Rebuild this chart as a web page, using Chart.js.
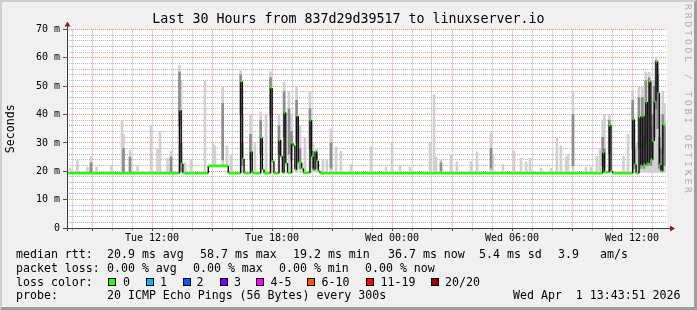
<!DOCTYPE html>
<html>
<head>
<meta charset="utf-8">
<title>Last 30 Hours</title>
<script src="https://cdn.jsdelivr.net/npm/chart.js@4.4.1/dist/chart.umd.min.js"></script>
<style>
html, body { margin: 0; padding: 0; background: #f0f0f0; }
#wrap { position: relative; width: 697px; height: 310px; overflow: hidden; background: #f0f0f0;
        font-family: 'DejaVu Sans Mono', monospace; color: #000; }
#chart { position: absolute; left: 0; top: 0; }
#title { position: absolute; left: 0; top: 10px; width: 697px; text-align: center;
         font-size: 13.3px; line-height: 18px; white-space: pre; }
.t { position: absolute; font-size: 11.6px; line-height: 14px; white-space: pre; }
.box { position: absolute; width: 6px; height: 6px; border: 1px solid #000; }
#mark { position: absolute; left: 683px; top: 4px; writing-mode: vertical-rl; font-size: 9.5px;
        line-height: 10px; letter-spacing: 3px; color: #aaaaaa; white-space: pre; }
#frame { position: absolute; left: 0; top: 0; width: 697px; height: 310px; box-sizing: border-box;
         border-style: solid; border-width: 2px 3px 3px 2px;
         border-color: #cfcfcf #9e9e9e #9e9e9e #cfcfcf; }
</style>
</head>
<body>
<div id="wrap">
  <canvas id="chart" width="697" height="310"></canvas>
  <div id="title"></div>
  <div id="legend"></div>
  <div id="mark">RRDTOOL / TOBI OETIKER</div>
  <div id="frame"></div>
</div>
<script>
// time in hours since Tue 00:00, values in ms
const titleText = 'Last 30 Hours from 837d29d39517 to linuxserver.io';
const xStart = 7.75;
const xEnd = 37.75;
const xTickHours = [12, 18, 24, 30, 36];
const xTickLabels = ['Tue 12:00', 'Tue 18:00', 'Wed 00:00', 'Wed 06:00', 'Wed 12:00'];
const yTickValues = [0, 10, 20, 30, 40, 50, 60, 70];
const yTickLabels = ['0', '10 m', '20 m', '30 m', '40 m', '50 m', '60 m', '70 m'];

// median rtt, value holds from each time until the next one
const medianHours = [7.75, 13.375, 13.46, 13.545, 14.815, 15.815, 16.435, 16.52, 16.605, 16.925,
  17.01, 17.095, 17.435, 17.52, 17.605, 17.925, 18.01, 18.095, 18.35, 18.435,
  18.52, 18.605, 18.69, 18.775, 18.975, 19.06, 19.145, 19.23, 19.315, 19.4,
  19.485, 19.57, 19.9, 19.98, 20.065, 20.15, 20.235, 20.32, 20.405, 34.535,
  34.62, 34.865, 34.95, 35.035, 36.035, 36.12, 36.205, 36.35, 36.435, 36.52,
  36.605, 36.69, 36.775, 36.86, 36.945, 37.03, 37.115, 37.2, 37.285, 37.37,
  37.455, 37.54, 37.66];
const medianMs = [19.3, 41.5, 22.7, 19.3, 21.9, 19.3, 51.7, 24.3, 19.3, 27,
  19.6, 19.3, 31.8, 20.5, 19.3, 49.4, 23.5, 19.3, 31, 25.2,
  19.5, 40.7, 22.8, 19.4, 29.8, 29, 20.5, 39.5, 23, 23,
  21, 19.5, 38, 25.1, 20.5, 27, 23.7, 20, 19.3, 26.6,
  19.7, 36.2, 20, 19.3, 38.3, 22.4, 19.3, 39.2, 22, 39.4,
  22.4, 44.4, 22.8, 51.7, 24.2, 30.7, 44.7, 58.7, 47.6, 22.3,
  20, 36.6, 36.6];

// smoke: full spread of the pings
const smokeHours = [7.9, 8.275, 8.775, 8.95, 9.225, 9.975, 10.5, 10.575, 10.9, 11.275,
  11.95, 12.275, 12.4, 12.775, 12.95, 13.375, 13.46, 13.65, 13.95, 14.65,
  15.05, 15.15, 15.535, 15.75, 15.95, 16.435, 16.52, 16.925, 17.15, 17.435,
  17.7, 17.925, 18.35, 18.605, 18.85, 18.975, 19.23, 19.4, 19.65, 19.9,
  20.05, 20.235, 20.55, 20.75, 20.95, 21.2, 21.45, 21.95, 22.95, 23.7,
  24.0, 24.4, 24.9, 25.9, 26.1, 26.2, 26.45, 26.95, 27.25, 27.95,
  28.25, 28.95, 29.05, 29.55, 30.1, 30.45, 30.7, 30.9, 31.45, 31.95,
  32.25, 32.45, 32.7, 32.8, 33.05, 33.7, 33.95, 34.25, 34.4, 34.535,
  34.62, 34.865, 35.575, 35.8, 36.035, 36.12, 36.25, 36.35, 36.435, 36.52,
  36.605, 36.69, 36.775, 36.86, 36.945, 37.03, 37.115, 37.2, 37.285, 37.37,
  37.455, 37.54, 37.625];
const smokeLo = [19.6, 19.6, 19.6, 19.6, 19.6, 19.6, 19.6, 19.6, 19.6, 19.6,
  19.6, 19.6, 19.6, 19.6, 19.6, 19.6, 19.6, 19.6, 19.6, 19.6,
  21.9, 21.9, 21.9, 21.9, 19.6, 19.6, 19.6, 19.6, 19.6, 19.6,
  19.6, 19.6, 19.6, 19.6, 19.6, 19.6, 19.6, 19.6, 19.6, 19.6,
  19.6, 19.6, 19.6, 19.6, 19.6, 19.6, 19.6, 19.6, 19.6, 19.6,
  19.6, 19.6, 19.6, 19.6, 19.6, 19.6, 19.6, 19.6, 19.6, 19.6,
  19.6, 19.6, 19.6, 19.6, 19.6, 19.6, 19.6, 19.6, 19.6, 19.6,
  19.6, 19.6, 19.6, 19.6, 19.6, 19.6, 19.6, 19.6, 19.6, 19.6,
  19.6, 19.6, 19.6, 19.6, 19.6, 19.6, 19.6, 19.6, 19.6, 19.6,
  19.6, 19.6, 19.6, 19.6, 19.6, 19.6, 19.6, 19.6, 19.6, 19.6,
  19.6, 19.6, 19.6];
const smokeHi = [21.2, 23.9, 21.5, 25.1, 21.5, 22, 38, 33, 27.4, 22,
  36.2, 28, 33.9, 24.6, 27, 57.3, 52, 23, 24, 52,
  30, 29, 49.7, 29, 25.5, 55.5, 40, 40, 30, 41,
  40, 55.2, 39.7, 51.5, 48, 40, 50, 36, 32, 48,
  30, 28, 24, 24, 35, 28.6, 27, 22.5, 28.6, 21.5,
  29.8, 22, 21.5, 30, 47, 25, 24, 26, 23.3, 23.5,
  26.8, 33.6, 25.5, 22.5, 27.1, 24.6, 23.3, 24.6, 21, 21,
  32, 29, 25, 26, 48, 21.5, 21.5, 25.3, 28, 38,
  40, 39.7, 25.3, 33, 48.5, 35, 30, 49.7, 38, 49.7,
  40, 55, 42, 55, 44, 46, 52, 60.3, 56, 40,
  35, 48, 44];

// dense smoke: where most pings sit
const denseHours = [8.95, 10.575, 10.9, 12.95, 13.375, 13.46, 15.535, 16.435, 16.52, 16.925,
  17.435, 17.925, 18.35, 18.605, 18.85, 18.975, 19.23, 19.4, 19.9, 20.05,
  20.235, 20.95, 26.45, 28.95, 33.05, 34.535, 34.62, 34.865, 36.035, 36.12,
  36.35, 36.435, 36.52, 36.605, 36.69, 36.775, 36.86, 36.945, 37.03, 37.115,
  37.2, 37.285, 37.37, 37.455, 37.54, 37.625];
const denseLo = [19.6, 19.6, 19.6, 19.6, 36, 20, 24, 40, 22, 24,
  26, 40, 26, 32, 26, 24, 30, 21, 28, 21,
  21, 21, 20, 21, 22, 22, 21, 26, 28, 21,
  28, 21, 28, 21, 30, 22, 35, 22, 24, 32,
  42, 35, 21, 20.5, 26, 22];
const denseHi = [23, 28, 25, 25, 55, 30, 44, 54, 30, 33,
  38, 53, 36, 48, 42, 34, 45, 28, 42, 27,
  26, 30, 23, 28, 40, 32, 28, 38, 45, 28,
  46, 30, 46, 32, 52, 35, 53, 36, 40, 50,
  59, 54, 32, 28, 40, 36];

// legend
const rowLabels = ['median rtt:', 'packet loss:', 'loss color:', 'probe:'];
const rttStats = ['20.9 ms avg', '58.7 ms max', '19.2 ms min', '36.7 ms now', '5.4 ms sd', '3.9', 'am/s'];
const lossStats = ['0.00 % avg', '0.00 % max', '0.00 % min', '0.00 % now'];
const lossNames = ['0', '1', '2', '3', '4-5', '6-10', '11-19', '20/20'];
const lossColors = ['#26ff00', '#00b8ff', '#0059ff', '#7e00ff', '#ff00ff', '#ff5500', '#ff0000', '#a10000'];
const probeText = '20 ICMP Echo Pings (56 Bytes) every 300s';
const stampText = 'Wed Apr  1 13:43:51 2026';

document.getElementById('title').textContent = titleText;

// legend layout
const legend = document.getElementById('legend');
function addText(x, yc, s) {
  const d = document.createElement('div');
  d.className = 't';
  d.style.left = x + 'px';
  d.style.top = (yc - 7.5) + 'px';
  d.textContent = s;
  legend.appendChild(d);
}
function addBox(x, y, c) {
  const d = document.createElement('div');
  d.className = 'box';
  d.style.left = x + 'px';
  d.style.top = y + 'px';
  d.style.background = c;
  legend.appendChild(d);
}
const rowY = [254.3, 268.3, 282.3, 295.7];
rowLabels.forEach((s, i) => addText(16, rowY[i], s));
const rttX = [107, 200, 293, 388, 479, 558, 600];
rttStats.forEach((s, i) => addText(rttX[i], rowY[0], s));
const lossX = [107, 193, 279, 365];
lossStats.forEach((s, i) => addText(lossX[i], rowY[1], s));
const boxX = [108, 145.5, 182.5, 219.5, 256, 307, 365.5, 431];
const nameX = [123, 160, 196.5, 234, 270.5, 321.5, 380.5, 445];
lossNames.forEach((s, i) => {
  addBox(boxX[i], 278, lossColors[i]);
  addText(nameX[i], rowY[2], s);
});
addText(107, rowY[3], probeText);
addText(513, rowY[3], stampText);

// chart data
const medPath = [];
for (let i = 0; i < medianHours.length - 1; i++) {
  medPath.push({x: medianHours[i], y: medianMs[i]});
  medPath.push({x: medianHours[i + 1], y: medianMs[i]});
}
const smokeData = smokeHours.map((h, i) => ({x: h, y: [smokeLo[i], smokeHi[i]]}));
const denseData = denseHours.map((h, i) => ({x: h, y: [denseLo[i], denseHi[i]]}));

const majorGrid = 'rgba(235,70,70,0.6)';
const minorGrid = 'rgba(130,130,130,0.6)';
const mono = 'DejaVu Sans Mono';

const decor = {
  id: 'decor',
  beforeDraw(chart) {
    const {ctx, chartArea: a} = chart;
    ctx.save();
    ctx.fillStyle = '#ffffff';
    ctx.fillRect(a.left, a.top, a.right - a.left, a.bottom - a.top);
    ctx.restore();
  },
  afterDraw(chart) {
    const {ctx, chartArea: a} = chart;
    ctx.save();
    ctx.strokeStyle = '#404040';
    ctx.lineWidth = 1;
    ctx.beginPath();
    ctx.moveTo(a.left + 0.5, a.bottom + 3);
    ctx.lineTo(a.left + 0.5, a.top - 4);
    ctx.moveTo(a.left - 4, a.bottom + 0.5);
    ctx.lineTo(a.right + 4, a.bottom + 0.5);
    ctx.stroke();
    ctx.fillStyle = '#8b1a1a';
    ctx.beginPath();
    ctx.moveTo(a.left + 0.5, a.top - 8);
    ctx.lineTo(a.left - 2.5, a.top - 3);
    ctx.lineTo(a.left + 3.5, a.top - 3);
    ctx.closePath();
    ctx.fill();
    ctx.beginPath();
    ctx.moveTo(a.right + 8, a.bottom + 0.5);
    ctx.lineTo(a.right + 3, a.bottom - 2.5);
    ctx.lineTo(a.right + 3, a.bottom + 3.5);
    ctx.closePath();
    ctx.fill();
    ctx.restore();
  }
};

new Chart(document.getElementById('chart'), {
  type: 'bar',
  data: {
    datasets: [
      {
        type: 'line',
        data: medPath,
        borderWidth: 2.4,
        pointRadius: 0,
        tension: 0,
        fill: false,
        order: 0,
        segment: {
          borderColor: c => c.p0.parsed.y === c.p1.parsed.y ? '#26ff00' : '#111111',
          borderWidth: c => c.p0.parsed.y === c.p1.parsed.y ? 2.6 : 1.4
        }
      },
      {
        data: denseData,
        backgroundColor: 'rgba(85,85,85,0.55)',
        barThickness: 2,
        grouped: false,
        borderWidth: 0,
        order: 1
      },
      {
        data: smokeData,
        backgroundColor: '#d0d0d0',
        barThickness: 2,
        grouped: false,
        borderWidth: 0,
        order: 2
      }
    ]
  },
  options: {
    responsive: false,
    animation: false,
    events: [],
    devicePixelRatio: 1,
    layout: { padding: { left: 0, right: 30, top: 29.5, bottom: 62 } },
    plugins: { legend: { display: false }, tooltip: { enabled: false }, title: { display: false } },
    scales: {
      x: {
        type: 'linear',
        min: xStart,
        max: xEnd,
        offset: false,
        afterBuildTicks: s => {
          const t = [];
          for (let h = Math.ceil(xStart); h <= xEnd; h++) t.push({value: h});
          s.ticks = t;
        },
        afterFit: s => { s.height = 20; },
        grid: {
          offset: false,
          lineWidth: 1,
          color: c => (c.tick && c.tick.value % 3 === 0) ? majorGrid : minorGrid,
          tickLength: 3,
          tickColor: c => (c.tick && c.tick.value % 3 === 0) ? '#555555' : 'rgba(0,0,0,0.3)',
          tickBorderDash: []
        },
        border: { display: false, dash: [1, 1] },
        ticks: {
          autoSkip: false,
          maxRotation: 0,
          padding: 1,
          color: '#000',
          font: { family: mono, size: 10 },
          callback: v => { const i = xTickHours.indexOf(v); return i >= 0 ? xTickLabels[i] : ''; }
        }
      },
      y: {
        type: 'linear',
        min: 0,
        max: 70,
        afterBuildTicks: s => {
          const t = [];
          for (let v = 0; v <= 70; v += 2) t.push({value: v});
          s.ticks = t;
        },
        afterFit: s => { s.width = 67; },
        grid: {
          lineWidth: 1,
          color: c => (c.tick && c.tick.value % 10 === 0) ? majorGrid : minorGrid,
          tickLength: 4,
          tickColor: c => (c.tick && c.tick.value % 10 === 0) ? '#555555' : 'rgba(0,0,0,0)',
          tickBorderDash: []
        },
        border: { display: false, dash: [1, 1] },
        title: {
          display: true,
          text: 'Seconds',
          color: '#000',
          font: { family: mono, size: 11.6 },
          padding: { top: 4, bottom: 0 }
        },
        ticks: {
          autoSkip: false,
          padding: 3,
          color: '#000',
          font: { family: mono, size: 10 },
          callback: v => { const i = yTickValues.indexOf(v); return i >= 0 ? yTickLabels[i] : ''; }
        }
      }
    }
  },
  plugins: [decor]
});
</script>
</body>
</html>
